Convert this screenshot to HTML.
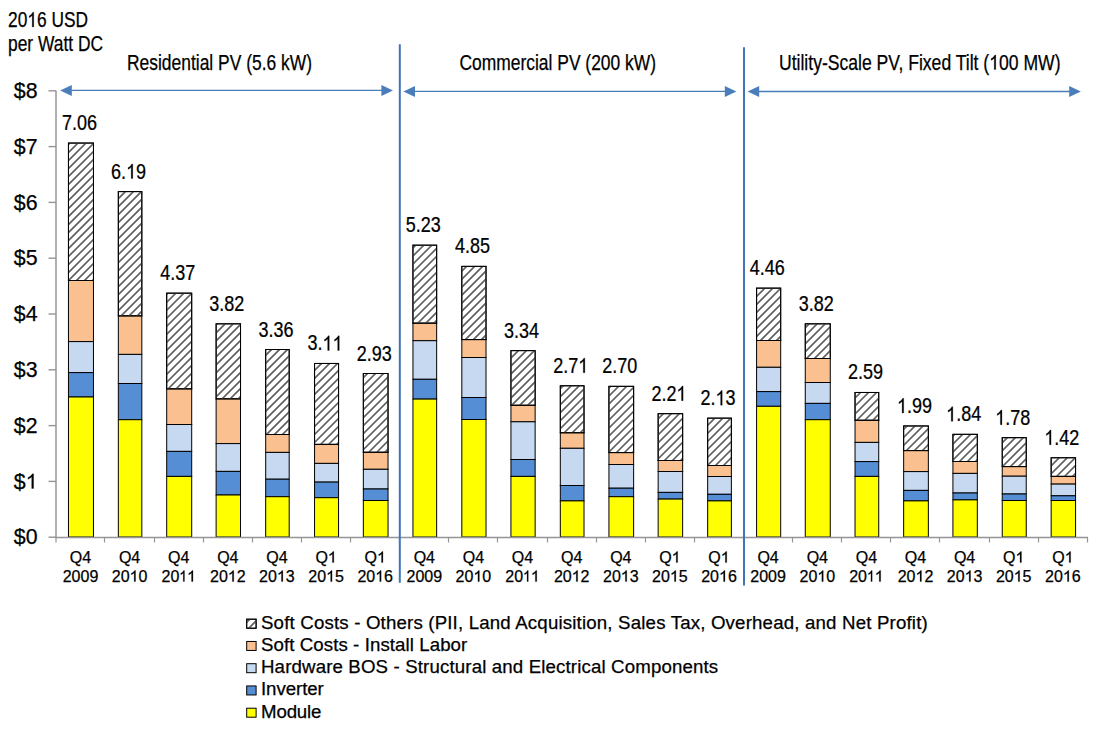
<!DOCTYPE html><html><head><meta charset="utf-8"><style>html,body{margin:0;padding:0;background:#fff;}svg{display:block;}text{font-family:"Liberation Sans",sans-serif;fill:#000;stroke:#000;stroke-width:0.25px;}.o{fill:transparent;stroke:none;}.one{fill:#000;stroke:#000;stroke-width:0.25px;}</style></head><body>
<svg width="1100" height="730" viewBox="0 0 1100 730">
<rect width="1100" height="730" fill="#fff"/>
<text id="t1" x="8" y="26.9" font-size="21.3" textLength="80" lengthAdjust="spacingAndGlyphs">20<tspan class="o">1</tspan>6 USD</text><path class="one" vector-effect="non-scaling-stroke" transform="matrix(0.008474,0,0,-0.010400,27.29,26.90)" d="M763 0H583V1098Q518 1038 412 979Q306 920 222 890V1057Q373 1124 486 1221Q599 1318 646 1409H763Z"/>
<text x="8" y="51.2" font-size="21.3" textLength="95" lengthAdjust="spacingAndGlyphs">per Watt DC</text>
<text x="127" y="69.6" font-size="21.3" textLength="185" lengthAdjust="spacingAndGlyphs">Residential PV (5.6 kW)</text>
<text x="459.5" y="69.6" font-size="21.3" textLength="196.5" lengthAdjust="spacingAndGlyphs">Commercial PV (200 kW)</text>
<text id="t2" x="779" y="69.6" font-size="21.3" textLength="281.5" lengthAdjust="spacingAndGlyphs">Utility-Scale PV, Fixed Tilt (<tspan class="o">1</tspan>00 MW)</text><path class="one" vector-effect="non-scaling-stroke" transform="matrix(0.008589,0,0,-0.010400,989.23,69.60)" d="M763 0H583V1098Q518 1038 412 979Q306 920 222 890V1057Q373 1124 486 1221Q599 1318 646 1409H763Z"/>
<text x="37.5" y="544.3" font-size="21.3" text-anchor="end">$0</text>
<line x1="48.5" y1="537.2" x2="56" y2="537.2" stroke="#959595" stroke-width="1.4"/>
<text id="t3" x="37.5" y="488.5" font-size="21.3" text-anchor="end">$<tspan class="o">1</tspan></text><path class="one" vector-effect="non-scaling-stroke" transform="matrix(0.010412,0,0,-0.010400,25.64,488.50)" d="M763 0H583V1098Q518 1038 412 979Q306 920 222 890V1057Q373 1124 486 1221Q599 1318 646 1409H763Z"/>
<line x1="48.5" y1="481.4" x2="56" y2="481.4" stroke="#959595" stroke-width="1.4"/>
<text x="37.5" y="432.7" font-size="21.3" text-anchor="end">$2</text>
<line x1="48.5" y1="425.6" x2="56" y2="425.6" stroke="#959595" stroke-width="1.4"/>
<text x="37.5" y="376.9" font-size="21.3" text-anchor="end">$3</text>
<line x1="48.5" y1="369.8" x2="56" y2="369.8" stroke="#959595" stroke-width="1.4"/>
<text x="37.5" y="321.1" font-size="21.3" text-anchor="end">$4</text>
<line x1="48.5" y1="314.0" x2="56" y2="314.0" stroke="#959595" stroke-width="1.4"/>
<text x="37.5" y="265.3" font-size="21.3" text-anchor="end">$5</text>
<line x1="48.5" y1="258.2" x2="56" y2="258.2" stroke="#959595" stroke-width="1.4"/>
<text x="37.5" y="209.5" font-size="21.3" text-anchor="end">$6</text>
<line x1="48.5" y1="202.4" x2="56" y2="202.4" stroke="#959595" stroke-width="1.4"/>
<text x="37.5" y="153.7" font-size="21.3" text-anchor="end">$7</text>
<line x1="48.5" y1="146.6" x2="56" y2="146.6" stroke="#959595" stroke-width="1.4"/>
<text x="37.5" y="97.9" font-size="21.3" text-anchor="end">$8</text>
<line x1="48.5" y1="90.8" x2="56" y2="90.8" stroke="#959595" stroke-width="1.4"/>
<line x1="56" y1="90.5" x2="56" y2="537.5" stroke="#959595" stroke-width="1.5"/>
<line x1="56.0" y1="537" x2="56.0" y2="542.5" stroke="#959595" stroke-width="1.2"/>
<line x1="104.5" y1="537" x2="104.5" y2="542.5" stroke="#959595" stroke-width="1.2"/>
<line x1="154.5" y1="537" x2="154.5" y2="542.5" stroke="#959595" stroke-width="1.2"/>
<line x1="203.5" y1="537" x2="203.5" y2="542.5" stroke="#959595" stroke-width="1.2"/>
<line x1="252.5" y1="537" x2="252.5" y2="542.5" stroke="#959595" stroke-width="1.2"/>
<line x1="301.5" y1="537" x2="301.5" y2="542.5" stroke="#959595" stroke-width="1.2"/>
<line x1="350.5" y1="537" x2="350.5" y2="542.5" stroke="#959595" stroke-width="1.2"/>
<line x1="399.5" y1="537" x2="399.5" y2="542.5" stroke="#959595" stroke-width="1.2"/>
<line x1="448.5" y1="537" x2="448.5" y2="542.5" stroke="#959595" stroke-width="1.2"/>
<line x1="497.5" y1="537" x2="497.5" y2="542.5" stroke="#959595" stroke-width="1.2"/>
<line x1="547.5" y1="537" x2="547.5" y2="542.5" stroke="#959595" stroke-width="1.2"/>
<line x1="596.5" y1="537" x2="596.5" y2="542.5" stroke="#959595" stroke-width="1.2"/>
<line x1="645.5" y1="537" x2="645.5" y2="542.5" stroke="#959595" stroke-width="1.2"/>
<line x1="694.5" y1="537" x2="694.5" y2="542.5" stroke="#959595" stroke-width="1.2"/>
<line x1="743.5" y1="537" x2="743.5" y2="542.5" stroke="#959595" stroke-width="1.2"/>
<line x1="792.5" y1="537" x2="792.5" y2="542.5" stroke="#959595" stroke-width="1.2"/>
<line x1="841.5" y1="537" x2="841.5" y2="542.5" stroke="#959595" stroke-width="1.2"/>
<line x1="890.5" y1="537" x2="890.5" y2="542.5" stroke="#959595" stroke-width="1.2"/>
<line x1="939.5" y1="537" x2="939.5" y2="542.5" stroke="#959595" stroke-width="1.2"/>
<line x1="989.5" y1="537" x2="989.5" y2="542.5" stroke="#959595" stroke-width="1.2"/>
<line x1="1038.5" y1="537" x2="1038.5" y2="542.5" stroke="#959595" stroke-width="1.2"/>
<line x1="1087.5" y1="537" x2="1087.5" y2="542.5" stroke="#959595" stroke-width="1.2"/>
<rect x="68.46" y="143.05" width="25.00" height="137.45" fill="#fff" stroke="#000" stroke-width="1"/>
<rect x="68.46" y="280.50" width="25.00" height="61.10" fill="#FAC090" stroke="#000" stroke-width="1"/>
<rect x="68.46" y="341.60" width="25.00" height="31.00" fill="#C6D9F1" stroke="#000" stroke-width="1"/>
<rect x="68.46" y="372.60" width="25.00" height="24.40" fill="#558ED5" stroke="#000" stroke-width="1"/>
<rect x="68.46" y="397.00" width="25.00" height="140.00" fill="#FFFF00" stroke="#000" stroke-width="1"/>
<g transform="translate(79.46,130.05) scale(0.845,1)"><text x="0" y="0" font-size="21.3" text-anchor="middle">7.06</text></g>
<text x="80.5" y="562.6" font-size="16" text-anchor="middle">Q4</text>
<text x="80.5" y="581.6" font-size="16" text-anchor="middle">2009</text>
<rect x="118.33" y="191.60" width="23.50" height="124.30" fill="#fff" stroke="#000" stroke-width="1"/>
<rect x="118.33" y="315.90" width="23.50" height="38.50" fill="#FAC090" stroke="#000" stroke-width="1"/>
<rect x="118.33" y="354.40" width="23.50" height="29.10" fill="#C6D9F1" stroke="#000" stroke-width="1"/>
<rect x="118.33" y="383.50" width="23.50" height="36.20" fill="#558ED5" stroke="#000" stroke-width="1"/>
<rect x="118.33" y="419.70" width="23.50" height="117.30" fill="#FFFF00" stroke="#000" stroke-width="1"/>
<g transform="translate(128.58,178.60) scale(0.845,1)"><text id="t4" x="0" y="0" font-size="21.3" text-anchor="middle">6.<tspan class="o">1</tspan>9</text><path class="one" vector-effect="non-scaling-stroke" transform="matrix(0.010403,0,0,-0.010400,-2.97,0.00)" d="M763 0H583V1098Q518 1038 412 979Q306 920 222 890V1057Q373 1124 486 1221Q599 1318 646 1409H763Z"/></g>
<text x="129.6" y="562.6" font-size="16" text-anchor="middle">Q4</text>
<text id="t5" x="129.6" y="581.6" font-size="16" text-anchor="middle">20<tspan class="o">1</tspan>0</text><path class="one" vector-effect="non-scaling-stroke" transform="matrix(0.007819,0,0,-0.007812,129.59,581.60)" d="M763 0H583V1098Q518 1038 412 979Q306 920 222 890V1057Q373 1124 486 1221Q599 1318 646 1409H763Z"/>
<rect x="166.70" y="293.15" width="25.00" height="95.75" fill="#fff" stroke="#000" stroke-width="1"/>
<rect x="166.70" y="388.90" width="25.00" height="35.60" fill="#FAC090" stroke="#000" stroke-width="1"/>
<rect x="166.70" y="424.50" width="25.00" height="26.90" fill="#C6D9F1" stroke="#000" stroke-width="1"/>
<rect x="166.70" y="451.40" width="25.00" height="25.00" fill="#558ED5" stroke="#000" stroke-width="1"/>
<rect x="166.70" y="476.40" width="25.00" height="60.60" fill="#FFFF00" stroke="#000" stroke-width="1"/>
<g transform="translate(177.70,280.15) scale(0.845,1)"><text x="0" y="0" font-size="21.3" text-anchor="middle">4.37</text></g>
<text x="178.7" y="562.6" font-size="16" text-anchor="middle">Q4</text>
<text id="t6" x="178.7" y="581.6" font-size="16" text-anchor="middle">20<tspan class="o">1</tspan><tspan class="o">1</tspan></text><path class="one" vector-effect="non-scaling-stroke" transform="matrix(0.006777,0,0,-0.007812,179.29,581.60)" d="M763 0H583V1098Q518 1038 412 979Q306 920 222 890V1057Q373 1124 486 1221Q599 1318 646 1409H763Z"/><path class="one" vector-effect="non-scaling-stroke" transform="matrix(0.007819,0,0,-0.007812,187.00,581.60)" d="M763 0H583V1098Q518 1038 412 979Q306 920 222 890V1057Q373 1124 486 1221Q599 1318 646 1409H763Z"/>
<rect x="216.12" y="323.84" width="24.40" height="75.06" fill="#fff" stroke="#000" stroke-width="1"/>
<rect x="216.12" y="398.90" width="24.40" height="44.70" fill="#FAC090" stroke="#000" stroke-width="1"/>
<rect x="216.12" y="443.60" width="24.40" height="27.80" fill="#C6D9F1" stroke="#000" stroke-width="1"/>
<rect x="216.12" y="471.40" width="24.40" height="23.60" fill="#558ED5" stroke="#000" stroke-width="1"/>
<rect x="216.12" y="495.00" width="24.40" height="42.00" fill="#FFFF00" stroke="#000" stroke-width="1"/>
<g transform="translate(226.82,310.84) scale(0.845,1)"><text x="0" y="0" font-size="21.3" text-anchor="middle">3.82</text></g>
<text x="227.8" y="562.6" font-size="16" text-anchor="middle">Q4</text>
<text id="t7" x="227.8" y="581.6" font-size="16" text-anchor="middle">20<tspan class="o">1</tspan>2</text><path class="one" vector-effect="non-scaling-stroke" transform="matrix(0.007819,0,0,-0.007812,227.79,581.60)" d="M763 0H583V1098Q518 1038 412 979Q306 920 222 890V1057Q373 1124 486 1221Q599 1318 646 1409H763Z"/>
<rect x="265.69" y="349.51" width="23.50" height="84.99" fill="#fff" stroke="#000" stroke-width="1"/>
<rect x="265.69" y="434.50" width="23.50" height="17.90" fill="#FAC090" stroke="#000" stroke-width="1"/>
<rect x="265.69" y="452.40" width="23.50" height="26.80" fill="#C6D9F1" stroke="#000" stroke-width="1"/>
<rect x="265.69" y="479.20" width="23.50" height="17.50" fill="#558ED5" stroke="#000" stroke-width="1"/>
<rect x="265.69" y="496.70" width="23.50" height="40.30" fill="#FFFF00" stroke="#000" stroke-width="1"/>
<g transform="translate(275.94,336.51) scale(0.845,1)"><text x="0" y="0" font-size="21.3" text-anchor="middle">3.36</text></g>
<text x="276.9" y="562.6" font-size="16" text-anchor="middle">Q4</text>
<text id="t8" x="276.9" y="581.6" font-size="16" text-anchor="middle">20<tspan class="o">1</tspan>3</text><path class="one" vector-effect="non-scaling-stroke" transform="matrix(0.007819,0,0,-0.007812,276.89,581.60)" d="M763 0H583V1098Q518 1038 412 979Q306 920 222 890V1057Q373 1124 486 1221Q599 1318 646 1409H763Z"/>
<rect x="314.56" y="363.46" width="24.00" height="80.94" fill="#fff" stroke="#000" stroke-width="1"/>
<rect x="314.56" y="444.40" width="24.00" height="19.00" fill="#FAC090" stroke="#000" stroke-width="1"/>
<rect x="314.56" y="463.40" width="24.00" height="18.70" fill="#C6D9F1" stroke="#000" stroke-width="1"/>
<rect x="314.56" y="482.10" width="24.00" height="15.60" fill="#558ED5" stroke="#000" stroke-width="1"/>
<rect x="314.56" y="497.70" width="24.00" height="39.30" fill="#FFFF00" stroke="#000" stroke-width="1"/>
<g transform="translate(325.06,350.46) scale(0.845,1)"><text id="t9" x="0" y="0" font-size="21.3" text-anchor="middle">3.<tspan class="o">1</tspan><tspan class="o">1</tspan></text><path class="one" vector-effect="non-scaling-stroke" transform="matrix(0.010403,0,0,-0.010400,-2.97,0.00)" d="M763 0H583V1098Q518 1038 412 979Q306 920 222 890V1057Q373 1124 486 1221Q599 1318 646 1409H763Z"/><path class="one" vector-effect="non-scaling-stroke" transform="matrix(0.010403,0,0,-0.010400,8.88,0.00)" d="M763 0H583V1098Q518 1038 412 979Q306 920 222 890V1057Q373 1124 486 1221Q599 1318 646 1409H763Z"/></g>
<text id="t10" x="326.1" y="562.6" font-size="16" text-anchor="middle">Q<tspan class="o">1</tspan></text><path class="one" vector-effect="non-scaling-stroke" transform="matrix(0.007819,0,0,-0.007812,327.87,562.60)" d="M763 0H583V1098Q518 1038 412 979Q306 920 222 890V1057Q373 1124 486 1221Q599 1318 646 1409H763Z"/>
<text id="t11" x="326.1" y="581.6" font-size="16" text-anchor="middle">20<tspan class="o">1</tspan>5</text><path class="one" vector-effect="non-scaling-stroke" transform="matrix(0.007819,0,0,-0.007812,326.09,581.60)" d="M763 0H583V1098Q518 1038 412 979Q306 920 222 890V1057Q373 1124 486 1221Q599 1318 646 1409H763Z"/>
<rect x="363.33" y="373.51" width="24.70" height="78.79" fill="#fff" stroke="#000" stroke-width="1"/>
<rect x="363.33" y="452.30" width="24.70" height="17.00" fill="#FAC090" stroke="#000" stroke-width="1"/>
<rect x="363.33" y="469.30" width="24.70" height="19.70" fill="#C6D9F1" stroke="#000" stroke-width="1"/>
<rect x="363.33" y="489.00" width="24.70" height="11.50" fill="#558ED5" stroke="#000" stroke-width="1"/>
<rect x="363.33" y="500.50" width="24.70" height="36.50" fill="#FFFF00" stroke="#000" stroke-width="1"/>
<g transform="translate(374.18,360.51) scale(0.845,1)"><text x="0" y="0" font-size="21.3" text-anchor="middle">2.93</text></g>
<text id="t12" x="375.2" y="562.6" font-size="16" text-anchor="middle">Q<tspan class="o">1</tspan></text><path class="one" vector-effect="non-scaling-stroke" transform="matrix(0.007819,0,0,-0.007812,376.97,562.60)" d="M763 0H583V1098Q518 1038 412 979Q306 920 222 890V1057Q373 1124 486 1221Q599 1318 646 1409H763Z"/>
<text id="t13" x="375.2" y="581.6" font-size="16" text-anchor="middle">20<tspan class="o">1</tspan>6</text><path class="one" vector-effect="non-scaling-stroke" transform="matrix(0.007819,0,0,-0.007812,375.19,581.60)" d="M763 0H583V1098Q518 1038 412 979Q306 920 222 890V1057Q373 1124 486 1221Q599 1318 646 1409H763Z"/>
<rect x="412.95" y="245.17" width="23.70" height="78.03" fill="#fff" stroke="#000" stroke-width="1"/>
<rect x="412.95" y="323.20" width="23.70" height="17.50" fill="#FAC090" stroke="#000" stroke-width="1"/>
<rect x="412.95" y="340.70" width="23.70" height="38.60" fill="#C6D9F1" stroke="#000" stroke-width="1"/>
<rect x="412.95" y="379.30" width="23.70" height="19.80" fill="#558ED5" stroke="#000" stroke-width="1"/>
<rect x="412.95" y="399.10" width="23.70" height="137.90" fill="#FFFF00" stroke="#000" stroke-width="1"/>
<g transform="translate(423.30,232.17) scale(0.845,1)"><text x="0" y="0" font-size="21.3" text-anchor="middle">5.23</text></g>
<text x="424.3" y="562.6" font-size="16" text-anchor="middle">Q4</text>
<text x="424.3" y="581.6" font-size="16" text-anchor="middle">2009</text>
<rect x="461.82" y="266.37" width="24.20" height="73.23" fill="#fff" stroke="#000" stroke-width="1"/>
<rect x="461.82" y="339.60" width="24.20" height="17.90" fill="#FAC090" stroke="#000" stroke-width="1"/>
<rect x="461.82" y="357.50" width="24.20" height="40.00" fill="#C6D9F1" stroke="#000" stroke-width="1"/>
<rect x="461.82" y="397.50" width="24.20" height="22.00" fill="#558ED5" stroke="#000" stroke-width="1"/>
<rect x="461.82" y="419.50" width="24.20" height="117.50" fill="#FFFF00" stroke="#000" stroke-width="1"/>
<g transform="translate(472.42,253.37) scale(0.845,1)"><text x="0" y="0" font-size="21.3" text-anchor="middle">4.85</text></g>
<text x="473.4" y="562.6" font-size="16" text-anchor="middle">Q4</text>
<text id="t14" x="473.4" y="581.6" font-size="16" text-anchor="middle">20<tspan class="o">1</tspan>0</text><path class="one" vector-effect="non-scaling-stroke" transform="matrix(0.007819,0,0,-0.007812,473.39,581.60)" d="M763 0H583V1098Q518 1038 412 979Q306 920 222 890V1057Q373 1124 486 1221Q599 1318 646 1409H763Z"/>
<rect x="510.94" y="350.63" width="24.20" height="54.67" fill="#fff" stroke="#000" stroke-width="1"/>
<rect x="510.94" y="405.30" width="24.20" height="16.50" fill="#FAC090" stroke="#000" stroke-width="1"/>
<rect x="510.94" y="421.80" width="24.20" height="37.70" fill="#C6D9F1" stroke="#000" stroke-width="1"/>
<rect x="510.94" y="459.50" width="24.20" height="16.90" fill="#558ED5" stroke="#000" stroke-width="1"/>
<rect x="510.94" y="476.40" width="24.20" height="60.60" fill="#FFFF00" stroke="#000" stroke-width="1"/>
<g transform="translate(521.54,337.63) scale(0.845,1)"><text x="0" y="0" font-size="21.3" text-anchor="middle">3.34</text></g>
<text x="522.5" y="562.6" font-size="16" text-anchor="middle">Q4</text>
<text id="t15" x="522.5" y="581.6" font-size="16" text-anchor="middle">20<tspan class="o">1</tspan><tspan class="o">1</tspan></text><path class="one" vector-effect="non-scaling-stroke" transform="matrix(0.006777,0,0,-0.007812,523.09,581.60)" d="M763 0H583V1098Q518 1038 412 979Q306 920 222 890V1057Q373 1124 486 1221Q599 1318 646 1409H763Z"/><path class="one" vector-effect="non-scaling-stroke" transform="matrix(0.007819,0,0,-0.007812,530.80,581.60)" d="M763 0H583V1098Q518 1038 412 979Q306 920 222 890V1057Q373 1124 486 1221Q599 1318 646 1409H763Z"/>
<rect x="560.31" y="385.78" width="23.70" height="47.02" fill="#fff" stroke="#000" stroke-width="1"/>
<rect x="560.31" y="432.80" width="23.70" height="15.50" fill="#FAC090" stroke="#000" stroke-width="1"/>
<rect x="560.31" y="448.30" width="23.70" height="37.20" fill="#C6D9F1" stroke="#000" stroke-width="1"/>
<rect x="560.31" y="485.50" width="23.70" height="15.40" fill="#558ED5" stroke="#000" stroke-width="1"/>
<rect x="560.31" y="500.90" width="23.70" height="36.10" fill="#FFFF00" stroke="#000" stroke-width="1"/>
<g transform="translate(570.66,372.78) scale(0.845,1)"><text id="t16" x="0" y="0" font-size="21.3" text-anchor="middle">2.7<tspan class="o">1</tspan></text><path class="one" vector-effect="non-scaling-stroke" transform="matrix(0.010403,0,0,-0.010400,8.87,0.00)" d="M763 0H583V1098Q518 1038 412 979Q306 920 222 890V1057Q373 1124 486 1221Q599 1318 646 1409H763Z"/></g>
<text x="571.7" y="562.6" font-size="16" text-anchor="middle">Q4</text>
<text id="t17" x="571.7" y="581.6" font-size="16" text-anchor="middle">20<tspan class="o">1</tspan>2</text><path class="one" vector-effect="non-scaling-stroke" transform="matrix(0.007819,0,0,-0.007812,571.69,581.60)" d="M763 0H583V1098Q518 1038 412 979Q306 920 222 890V1057Q373 1124 486 1221Q599 1318 646 1409H763Z"/>
<rect x="608.93" y="386.34" width="24.70" height="66.26" fill="#fff" stroke="#000" stroke-width="1"/>
<rect x="608.93" y="452.60" width="24.70" height="11.90" fill="#FAC090" stroke="#000" stroke-width="1"/>
<rect x="608.93" y="464.50" width="24.70" height="23.70" fill="#C6D9F1" stroke="#000" stroke-width="1"/>
<rect x="608.93" y="488.20" width="24.70" height="8.50" fill="#558ED5" stroke="#000" stroke-width="1"/>
<rect x="608.93" y="496.70" width="24.70" height="40.30" fill="#FFFF00" stroke="#000" stroke-width="1"/>
<g transform="translate(619.78,373.34) scale(0.845,1)"><text x="0" y="0" font-size="21.3" text-anchor="middle">2.70</text></g>
<text x="620.8" y="562.6" font-size="16" text-anchor="middle">Q4</text>
<text id="t18" x="620.8" y="581.6" font-size="16" text-anchor="middle">20<tspan class="o">1</tspan>3</text><path class="one" vector-effect="non-scaling-stroke" transform="matrix(0.007819,0,0,-0.007812,620.79,581.60)" d="M763 0H583V1098Q518 1038 412 979Q306 920 222 890V1057Q373 1124 486 1221Q599 1318 646 1409H763Z"/>
<rect x="658.15" y="413.68" width="24.50" height="46.82" fill="#fff" stroke="#000" stroke-width="1"/>
<rect x="658.15" y="460.50" width="24.50" height="11.00" fill="#FAC090" stroke="#000" stroke-width="1"/>
<rect x="658.15" y="471.50" width="24.50" height="20.90" fill="#C6D9F1" stroke="#000" stroke-width="1"/>
<rect x="658.15" y="492.40" width="24.50" height="6.70" fill="#558ED5" stroke="#000" stroke-width="1"/>
<rect x="658.15" y="499.10" width="24.50" height="37.90" fill="#FFFF00" stroke="#000" stroke-width="1"/>
<g transform="translate(668.90,400.68) scale(0.845,1)"><text id="t19" x="0" y="0" font-size="21.3" text-anchor="middle">2.2<tspan class="o">1</tspan></text><path class="one" vector-effect="non-scaling-stroke" transform="matrix(0.010403,0,0,-0.010400,8.87,0.00)" d="M763 0H583V1098Q518 1038 412 979Q306 920 222 890V1057Q373 1124 486 1221Q599 1318 646 1409H763Z"/></g>
<text id="t20" x="669.9" y="562.6" font-size="16" text-anchor="middle">Q<tspan class="o">1</tspan></text><path class="one" vector-effect="non-scaling-stroke" transform="matrix(0.007819,0,0,-0.007812,671.67,562.60)" d="M763 0H583V1098Q518 1038 412 979Q306 920 222 890V1057Q373 1124 486 1221Q599 1318 646 1409H763Z"/>
<text id="t21" x="669.9" y="581.6" font-size="16" text-anchor="middle">20<tspan class="o">1</tspan>5</text><path class="one" vector-effect="non-scaling-stroke" transform="matrix(0.007819,0,0,-0.007812,669.89,581.60)" d="M763 0H583V1098Q518 1038 412 979Q306 920 222 890V1057Q373 1124 486 1221Q599 1318 646 1409H763Z"/>
<rect x="707.67" y="418.15" width="23.70" height="47.35" fill="#fff" stroke="#000" stroke-width="1"/>
<rect x="707.67" y="465.50" width="23.70" height="11.00" fill="#FAC090" stroke="#000" stroke-width="1"/>
<rect x="707.67" y="476.50" width="23.70" height="17.80" fill="#C6D9F1" stroke="#000" stroke-width="1"/>
<rect x="707.67" y="494.30" width="23.70" height="6.60" fill="#558ED5" stroke="#000" stroke-width="1"/>
<rect x="707.67" y="500.90" width="23.70" height="36.10" fill="#FFFF00" stroke="#000" stroke-width="1"/>
<g transform="translate(718.02,405.15) scale(0.845,1)"><text id="t22" x="0" y="0" font-size="21.3" text-anchor="middle">2.<tspan class="o">1</tspan>3</text><path class="one" vector-effect="non-scaling-stroke" transform="matrix(0.010403,0,0,-0.010400,-2.97,0.00)" d="M763 0H583V1098Q518 1038 412 979Q306 920 222 890V1057Q373 1124 486 1221Q599 1318 646 1409H763Z"/></g>
<text id="t23" x="719.0" y="562.6" font-size="16" text-anchor="middle">Q<tspan class="o">1</tspan></text><path class="one" vector-effect="non-scaling-stroke" transform="matrix(0.007819,0,0,-0.007812,720.77,562.60)" d="M763 0H583V1098Q518 1038 412 979Q306 920 222 890V1057Q373 1124 486 1221Q599 1318 646 1409H763Z"/>
<text id="t24" x="719.0" y="581.6" font-size="16" text-anchor="middle">20<tspan class="o">1</tspan>6</text><path class="one" vector-effect="non-scaling-stroke" transform="matrix(0.007819,0,0,-0.007812,718.99,581.60)" d="M763 0H583V1098Q518 1038 412 979Q306 920 222 890V1057Q373 1124 486 1221Q599 1318 646 1409H763Z"/>
<rect x="756.59" y="288.13" width="24.10" height="52.37" fill="#fff" stroke="#000" stroke-width="1"/>
<rect x="756.59" y="340.50" width="24.10" height="26.80" fill="#FAC090" stroke="#000" stroke-width="1"/>
<rect x="756.59" y="367.30" width="24.10" height="24.30" fill="#C6D9F1" stroke="#000" stroke-width="1"/>
<rect x="756.59" y="391.60" width="24.10" height="14.70" fill="#558ED5" stroke="#000" stroke-width="1"/>
<rect x="756.59" y="406.30" width="24.10" height="130.70" fill="#FFFF00" stroke="#000" stroke-width="1"/>
<g transform="translate(767.14,275.13) scale(0.845,1)"><text x="0" y="0" font-size="21.3" text-anchor="middle">4.46</text></g>
<text x="768.1" y="562.6" font-size="16" text-anchor="middle">Q4</text>
<text x="768.1" y="581.6" font-size="16" text-anchor="middle">2009</text>
<rect x="805.26" y="323.84" width="25.00" height="34.66" fill="#fff" stroke="#000" stroke-width="1"/>
<rect x="805.26" y="358.50" width="25.00" height="24.00" fill="#FAC090" stroke="#000" stroke-width="1"/>
<rect x="805.26" y="382.50" width="25.00" height="20.90" fill="#C6D9F1" stroke="#000" stroke-width="1"/>
<rect x="805.26" y="403.40" width="25.00" height="16.30" fill="#558ED5" stroke="#000" stroke-width="1"/>
<rect x="805.26" y="419.70" width="25.00" height="117.30" fill="#FFFF00" stroke="#000" stroke-width="1"/>
<g transform="translate(816.26,310.84) scale(0.845,1)"><text x="0" y="0" font-size="21.3" text-anchor="middle">3.82</text></g>
<text x="817.3" y="562.6" font-size="16" text-anchor="middle">Q4</text>
<text id="t25" x="817.3" y="581.6" font-size="16" text-anchor="middle">20<tspan class="o">1</tspan>0</text><path class="one" vector-effect="non-scaling-stroke" transform="matrix(0.007819,0,0,-0.007812,817.29,581.60)" d="M763 0H583V1098Q518 1038 412 979Q306 920 222 890V1057Q373 1124 486 1221Q599 1318 646 1409H763Z"/>
<rect x="855.03" y="392.48" width="23.70" height="27.82" fill="#fff" stroke="#000" stroke-width="1"/>
<rect x="855.03" y="420.30" width="23.70" height="22.10" fill="#FAC090" stroke="#000" stroke-width="1"/>
<rect x="855.03" y="442.40" width="23.70" height="19.20" fill="#C6D9F1" stroke="#000" stroke-width="1"/>
<rect x="855.03" y="461.60" width="23.70" height="14.80" fill="#558ED5" stroke="#000" stroke-width="1"/>
<rect x="855.03" y="476.40" width="23.70" height="60.60" fill="#FFFF00" stroke="#000" stroke-width="1"/>
<g transform="translate(865.38,379.48) scale(0.845,1)"><text x="0" y="0" font-size="21.3" text-anchor="middle">2.59</text></g>
<text x="866.4" y="562.6" font-size="16" text-anchor="middle">Q4</text>
<text id="t26" x="866.4" y="581.6" font-size="16" text-anchor="middle">20<tspan class="o">1</tspan><tspan class="o">1</tspan></text><path class="one" vector-effect="non-scaling-stroke" transform="matrix(0.006777,0,0,-0.007812,866.99,581.60)" d="M763 0H583V1098Q518 1038 412 979Q306 920 222 890V1057Q373 1124 486 1221Q599 1318 646 1409H763Z"/><path class="one" vector-effect="non-scaling-stroke" transform="matrix(0.007819,0,0,-0.007812,874.70,581.60)" d="M763 0H583V1098Q518 1038 412 979Q306 920 222 890V1057Q373 1124 486 1221Q599 1318 646 1409H763Z"/>
<rect x="903.65" y="425.96" width="24.70" height="24.64" fill="#fff" stroke="#000" stroke-width="1"/>
<rect x="903.65" y="450.60" width="24.70" height="21.00" fill="#FAC090" stroke="#000" stroke-width="1"/>
<rect x="903.65" y="471.60" width="24.70" height="18.80" fill="#C6D9F1" stroke="#000" stroke-width="1"/>
<rect x="903.65" y="490.40" width="24.70" height="10.50" fill="#558ED5" stroke="#000" stroke-width="1"/>
<rect x="903.65" y="500.90" width="24.70" height="36.10" fill="#FFFF00" stroke="#000" stroke-width="1"/>
<g transform="translate(914.50,412.96) scale(0.845,1)"><text id="t27" x="0" y="0" font-size="21.3" text-anchor="middle"><tspan class="o">1</tspan>.99</text><path class="one" vector-effect="non-scaling-stroke" transform="matrix(0.010403,0,0,-0.010400,-20.72,0.00)" d="M763 0H583V1098Q518 1038 412 979Q306 920 222 890V1057Q373 1124 486 1221Q599 1318 646 1409H763Z"/></g>
<text x="915.5" y="562.6" font-size="16" text-anchor="middle">Q4</text>
<text id="t28" x="915.5" y="581.6" font-size="16" text-anchor="middle">20<tspan class="o">1</tspan>2</text><path class="one" vector-effect="non-scaling-stroke" transform="matrix(0.007819,0,0,-0.007812,915.49,581.60)" d="M763 0H583V1098Q518 1038 412 979Q306 920 222 890V1057Q373 1124 486 1221Q599 1318 646 1409H763Z"/>
<rect x="952.92" y="434.33" width="24.40" height="27.17" fill="#fff" stroke="#000" stroke-width="1"/>
<rect x="952.92" y="461.50" width="24.40" height="11.90" fill="#FAC090" stroke="#000" stroke-width="1"/>
<rect x="952.92" y="473.40" width="24.40" height="19.60" fill="#C6D9F1" stroke="#000" stroke-width="1"/>
<rect x="952.92" y="493.00" width="24.40" height="6.90" fill="#558ED5" stroke="#000" stroke-width="1"/>
<rect x="952.92" y="499.90" width="24.40" height="37.10" fill="#FFFF00" stroke="#000" stroke-width="1"/>
<g transform="translate(963.62,421.33) scale(0.845,1)"><text id="t29" x="0" y="0" font-size="21.3" text-anchor="middle"><tspan class="o">1</tspan>.84</text><path class="one" vector-effect="non-scaling-stroke" transform="matrix(0.010403,0,0,-0.010400,-20.72,0.00)" d="M763 0H583V1098Q518 1038 412 979Q306 920 222 890V1057Q373 1124 486 1221Q599 1318 646 1409H763Z"/></g>
<text x="964.6" y="562.6" font-size="16" text-anchor="middle">Q4</text>
<text id="t30" x="964.6" y="581.6" font-size="16" text-anchor="middle">20<tspan class="o">1</tspan>3</text><path class="one" vector-effect="non-scaling-stroke" transform="matrix(0.007819,0,0,-0.007812,964.59,581.60)" d="M763 0H583V1098Q518 1038 412 979Q306 920 222 890V1057Q373 1124 486 1221Q599 1318 646 1409H763Z"/>
<rect x="1002.24" y="437.68" width="24.00" height="28.92" fill="#fff" stroke="#000" stroke-width="1"/>
<rect x="1002.24" y="466.60" width="24.00" height="9.60" fill="#FAC090" stroke="#000" stroke-width="1"/>
<rect x="1002.24" y="476.20" width="24.00" height="17.80" fill="#C6D9F1" stroke="#000" stroke-width="1"/>
<rect x="1002.24" y="494.00" width="24.00" height="6.50" fill="#558ED5" stroke="#000" stroke-width="1"/>
<rect x="1002.24" y="500.50" width="24.00" height="36.50" fill="#FFFF00" stroke="#000" stroke-width="1"/>
<g transform="translate(1012.74,424.68) scale(0.845,1)"><text id="t31" x="0" y="0" font-size="21.3" text-anchor="middle"><tspan class="o">1</tspan>.78</text><path class="one" vector-effect="non-scaling-stroke" transform="matrix(0.010403,0,0,-0.010400,-20.72,0.00)" d="M763 0H583V1098Q518 1038 412 979Q306 920 222 890V1057Q373 1124 486 1221Q599 1318 646 1409H763Z"/></g>
<text id="t32" x="1013.7" y="562.6" font-size="16" text-anchor="middle">Q<tspan class="o">1</tspan></text><path class="one" vector-effect="non-scaling-stroke" transform="matrix(0.007819,0,0,-0.007812,1015.47,562.60)" d="M763 0H583V1098Q518 1038 412 979Q306 920 222 890V1057Q373 1124 486 1221Q599 1318 646 1409H763Z"/>
<text id="t33" x="1013.7" y="581.6" font-size="16" text-anchor="middle">20<tspan class="o">1</tspan>5</text><path class="one" vector-effect="non-scaling-stroke" transform="matrix(0.007819,0,0,-0.007812,1013.69,581.60)" d="M763 0H583V1098Q518 1038 412 979Q306 920 222 890V1057Q373 1124 486 1221Q599 1318 646 1409H763Z"/>
<rect x="1051.16" y="457.76" width="24.40" height="18.64" fill="#fff" stroke="#000" stroke-width="1"/>
<rect x="1051.16" y="476.40" width="24.40" height="7.70" fill="#FAC090" stroke="#000" stroke-width="1"/>
<rect x="1051.16" y="484.10" width="24.40" height="11.70" fill="#C6D9F1" stroke="#000" stroke-width="1"/>
<rect x="1051.16" y="495.80" width="24.40" height="4.70" fill="#558ED5" stroke="#000" stroke-width="1"/>
<rect x="1051.16" y="500.50" width="24.40" height="36.50" fill="#FFFF00" stroke="#000" stroke-width="1"/>
<g transform="translate(1061.86,444.76) scale(0.845,1)"><text id="t34" x="0" y="0" font-size="21.3" text-anchor="middle"><tspan class="o">1</tspan>.42</text><path class="one" vector-effect="non-scaling-stroke" transform="matrix(0.010403,0,0,-0.010400,-20.72,0.00)" d="M763 0H583V1098Q518 1038 412 979Q306 920 222 890V1057Q373 1124 486 1221Q599 1318 646 1409H763Z"/></g>
<text id="t35" x="1062.9" y="562.6" font-size="16" text-anchor="middle">Q<tspan class="o">1</tspan></text><path class="one" vector-effect="non-scaling-stroke" transform="matrix(0.007819,0,0,-0.007812,1064.67,562.60)" d="M763 0H583V1098Q518 1038 412 979Q306 920 222 890V1057Q373 1124 486 1221Q599 1318 646 1409H763Z"/>
<text id="t36" x="1062.9" y="581.6" font-size="16" text-anchor="middle">20<tspan class="o">1</tspan>6</text><path class="one" vector-effect="non-scaling-stroke" transform="matrix(0.007819,0,0,-0.007812,1062.89,581.60)" d="M763 0H583V1098Q518 1038 412 979Q306 920 222 890V1057Q373 1124 486 1221Q599 1318 646 1409H763Z"/>
<line x1="55.3" y1="537.5" x2="1088" y2="537.5" stroke="#959595" stroke-width="1.4"/>
<line x1="399.8" y1="44.2" x2="399.8" y2="582.8" stroke="#3F74B9" stroke-width="2"/>
<line x1="744" y1="47.3" x2="744" y2="585.6" stroke="#3F74B9" stroke-width="2"/>
<line x1="71.2" y1="90.4" x2="382.0" y2="90.4" stroke="#4A7EBB" stroke-width="1.3"/>
<path d="M60.2,90.4 L71.8,84.9 L71.8,95.9 z" fill="#4A7EBB"/>
<path d="M393.0,90.4 L381.4,84.9 L381.4,95.9 z" fill="#4A7EBB"/>
<line x1="414.4" y1="91.4" x2="725.4" y2="91.4" stroke="#4A7EBB" stroke-width="1.3"/>
<path d="M403.4,91.4 L415.0,85.9 L415.0,96.9 z" fill="#4A7EBB"/>
<path d="M736.4,91.4 L724.8,85.9 L724.8,96.9 z" fill="#4A7EBB"/>
<line x1="758.6" y1="91.5" x2="1069.8" y2="91.5" stroke="#4A7EBB" stroke-width="1.3"/>
<path d="M747.6,91.5 L759.2,86.0 L759.2,97.0 z" fill="#4A7EBB"/>
<path d="M1080.8,91.5 L1069.2,86.0 L1069.2,97.0 z" fill="#4A7EBB"/>
<rect x="246.7" y="619.20" width="9.4" height="9.0" fill="#fff" stroke="#000" stroke-width="1"/>
<text x="261" y="628.6" font-size="18.67" textLength="666.7" lengthAdjust="spacing">Soft Costs - Others (PII, Land Acquisition, Sales Tax, Overhead, and Net Profit)</text>
<rect x="246.7" y="641.45" width="9.4" height="9.0" fill="#FAC090" stroke="#000" stroke-width="1"/>
<text x="261" y="650.9" font-size="18.67" textLength="206.3" lengthAdjust="spacing">Soft Costs - Install Labor</text>
<rect x="246.7" y="663.70" width="9.4" height="9.0" fill="#C6D9F1" stroke="#000" stroke-width="1"/>
<text x="261" y="673.1" font-size="18.67" textLength="457.2" lengthAdjust="spacing">Hardware BOS - Structural and Electrical Components</text>
<rect x="246.7" y="685.95" width="9.4" height="9.0" fill="#558ED5" stroke="#000" stroke-width="1"/>
<text x="261" y="695.4" font-size="18.67" textLength="62.8" lengthAdjust="spacing">Inverter</text>
<rect x="246.7" y="708.20" width="9.4" height="9.0" fill="#FFFF00" stroke="#000" stroke-width="1"/>
<text x="261" y="717.6" font-size="18.67" textLength="60.5" lengthAdjust="spacing">Module</text>
<clipPath id="hc"><rect x="68.46" y="143.05" width="25.00" height="137.45"/><rect x="118.33" y="191.60" width="23.50" height="124.30"/><rect x="166.70" y="293.15" width="25.00" height="95.75"/><rect x="216.12" y="323.84" width="24.40" height="75.06"/><rect x="265.69" y="349.51" width="23.50" height="84.99"/><rect x="314.56" y="363.46" width="24.00" height="80.94"/><rect x="363.33" y="373.51" width="24.70" height="78.79"/><rect x="412.95" y="245.17" width="23.70" height="78.03"/><rect x="461.82" y="266.37" width="24.20" height="73.23"/><rect x="510.94" y="350.63" width="24.20" height="54.67"/><rect x="560.31" y="385.78" width="23.70" height="47.02"/><rect x="608.93" y="386.34" width="24.70" height="66.26"/><rect x="658.15" y="413.68" width="24.50" height="46.82"/><rect x="707.67" y="418.15" width="23.70" height="47.35"/><rect x="756.59" y="288.13" width="24.10" height="52.37"/><rect x="805.26" y="323.84" width="25.00" height="34.66"/><rect x="855.03" y="392.48" width="23.70" height="27.82"/><rect x="903.65" y="425.96" width="24.70" height="24.64"/><rect x="952.92" y="434.33" width="24.40" height="27.17"/><rect x="1002.24" y="437.68" width="24.00" height="28.92"/><rect x="1051.16" y="457.76" width="24.40" height="18.64"/><rect x="246.70" y="619.20" width="9.40" height="9.00"/></clipPath>
<path clip-path="url(#hc)" d="M-495,700 L105,100 M-487,700 L113,100 M-479,700 L121,100 M-471,700 L129,100 M-463,700 L137,100 M-455,700 L145,100 M-447,700 L153,100 M-439,700 L161,100 M-431,700 L169,100 M-423,700 L177,100 M-415,700 L185,100 M-407,700 L193,100 M-399,700 L201,100 M-391,700 L209,100 M-383,700 L217,100 M-375,700 L225,100 M-367,700 L233,100 M-359,700 L241,100 M-351,700 L249,100 M-343,700 L257,100 M-335,700 L265,100 M-327,700 L273,100 M-319,700 L281,100 M-311,700 L289,100 M-303,700 L297,100 M-295,700 L305,100 M-287,700 L313,100 M-279,700 L321,100 M-271,700 L329,100 M-263,700 L337,100 M-255,700 L345,100 M-247,700 L353,100 M-239,700 L361,100 M-231,700 L369,100 M-223,700 L377,100 M-215,700 L385,100 M-207,700 L393,100 M-199,700 L401,100 M-191,700 L409,100 M-183,700 L417,100 M-175,700 L425,100 M-167,700 L433,100 M-159,700 L441,100 M-151,700 L449,100 M-143,700 L457,100 M-135,700 L465,100 M-127,700 L473,100 M-119,700 L481,100 M-111,700 L489,100 M-103,700 L497,100 M-95,700 L505,100 M-87,700 L513,100 M-79,700 L521,100 M-71,700 L529,100 M-63,700 L537,100 M-55,700 L545,100 M-47,700 L553,100 M-39,700 L561,100 M-31,700 L569,100 M-23,700 L577,100 M-15,700 L585,100 M-7,700 L593,100 M1,700 L601,100 M9,700 L609,100 M17,700 L617,100 M25,700 L625,100 M33,700 L633,100 M41,700 L641,100 M49,700 L649,100 M57,700 L657,100 M65,700 L665,100 M73,700 L673,100 M81,700 L681,100 M89,700 L689,100 M97,700 L697,100 M105,700 L705,100 M113,700 L713,100 M121,700 L721,100 M129,700 L729,100 M137,700 L737,100 M145,700 L745,100 M153,700 L753,100 M161,700 L761,100 M169,700 L769,100 M177,700 L777,100 M185,700 L785,100 M193,700 L793,100 M201,700 L801,100 M209,700 L809,100 M217,700 L817,100 M225,700 L825,100 M233,700 L833,100 M241,700 L841,100 M249,700 L849,100 M257,700 L857,100 M265,700 L865,100 M273,700 L873,100 M281,700 L881,100 M289,700 L889,100 M297,700 L897,100 M305,700 L905,100 M313,700 L913,100 M321,700 L921,100 M329,700 L929,100 M337,700 L937,100 M345,700 L945,100 M353,700 L953,100 M361,700 L961,100 M369,700 L969,100 M377,700 L977,100 M385,700 L985,100 M393,700 L993,100 M401,700 L1001,100 M409,700 L1009,100 M417,700 L1017,100 M425,700 L1025,100 M433,700 L1033,100 M441,700 L1041,100 M449,700 L1049,100 M457,700 L1057,100 M465,700 L1065,100 M473,700 L1073,100 M481,700 L1081,100 M489,700 L1089,100 M497,700 L1097,100 M505,700 L1105,100 M513,700 L1113,100 M521,700 L1121,100 M529,700 L1129,100 M537,700 L1137,100 M545,700 L1145,100 M553,700 L1153,100 M561,700 L1161,100 M569,700 L1169,100 M577,700 L1177,100 M585,700 L1185,100 M593,700 L1193,100 M601,700 L1201,100 M609,700 L1209,100 M617,700 L1217,100 M625,700 L1225,100 M633,700 L1233,100 M641,700 L1241,100 M649,700 L1249,100 M657,700 L1257,100 M665,700 L1265,100 M673,700 L1273,100 M681,700 L1281,100 M689,700 L1289,100 M697,700 L1297,100 M705,700 L1305,100 M713,700 L1313,100 M721,700 L1321,100 M729,700 L1329,100 M737,700 L1337,100 M745,700 L1345,100 M753,700 L1353,100 M761,700 L1361,100 M769,700 L1369,100 M777,700 L1377,100 M785,700 L1385,100 M793,700 L1393,100 M801,700 L1401,100 M809,700 L1409,100 M817,700 L1417,100 M825,700 L1425,100 M833,700 L1433,100 M841,700 L1441,100 M849,700 L1449,100 M857,700 L1457,100 M865,700 L1465,100 M873,700 L1473,100 M881,700 L1481,100 M889,700 L1489,100 M897,700 L1497,100 M905,700 L1505,100 M913,700 L1513,100 M921,700 L1521,100 M929,700 L1529,100 M937,700 L1537,100 M945,700 L1545,100 M953,700 L1553,100 M961,700 L1561,100 M969,700 L1569,100 M977,700 L1577,100 M985,700 L1585,100 M993,700 L1593,100 M1001,700 L1601,100 M1009,700 L1609,100 M1017,700 L1617,100 M1025,700 L1625,100 M1033,700 L1633,100 M1041,700 L1641,100 M1049,700 L1649,100 M1057,700 L1657,100 M1065,700 L1665,100 M1073,700 L1673,100 M1081,700 L1681,100 M1089,700 L1689,100 M1097,700 L1697,100 M1105,700 L1705,100 M1113,700 L1713,100 M1121,700 L1721,100 M1129,700 L1729,100 M1137,700 L1737,100 M1145,700 L1745,100 M1153,700 L1753,100 M1161,700 L1761,100 M1169,700 L1769,100 M1177,700 L1777,100 M1185,700 L1785,100 M1193,700 L1793,100 " stroke="#606060" stroke-width="1.6" fill="none"/>
<g fill="none" stroke="#000" stroke-width="1"><rect x="68.46" y="143.05" width="25.00" height="137.45"/><rect x="118.33" y="191.60" width="23.50" height="124.30"/><rect x="166.70" y="293.15" width="25.00" height="95.75"/><rect x="216.12" y="323.84" width="24.40" height="75.06"/><rect x="265.69" y="349.51" width="23.50" height="84.99"/><rect x="314.56" y="363.46" width="24.00" height="80.94"/><rect x="363.33" y="373.51" width="24.70" height="78.79"/><rect x="412.95" y="245.17" width="23.70" height="78.03"/><rect x="461.82" y="266.37" width="24.20" height="73.23"/><rect x="510.94" y="350.63" width="24.20" height="54.67"/><rect x="560.31" y="385.78" width="23.70" height="47.02"/><rect x="608.93" y="386.34" width="24.70" height="66.26"/><rect x="658.15" y="413.68" width="24.50" height="46.82"/><rect x="707.67" y="418.15" width="23.70" height="47.35"/><rect x="756.59" y="288.13" width="24.10" height="52.37"/><rect x="805.26" y="323.84" width="25.00" height="34.66"/><rect x="855.03" y="392.48" width="23.70" height="27.82"/><rect x="903.65" y="425.96" width="24.70" height="24.64"/><rect x="952.92" y="434.33" width="24.40" height="27.17"/><rect x="1002.24" y="437.68" width="24.00" height="28.92"/><rect x="1051.16" y="457.76" width="24.40" height="18.64"/><rect x="246.70" y="619.20" width="9.40" height="9.00"/></g>
</svg></body></html>
